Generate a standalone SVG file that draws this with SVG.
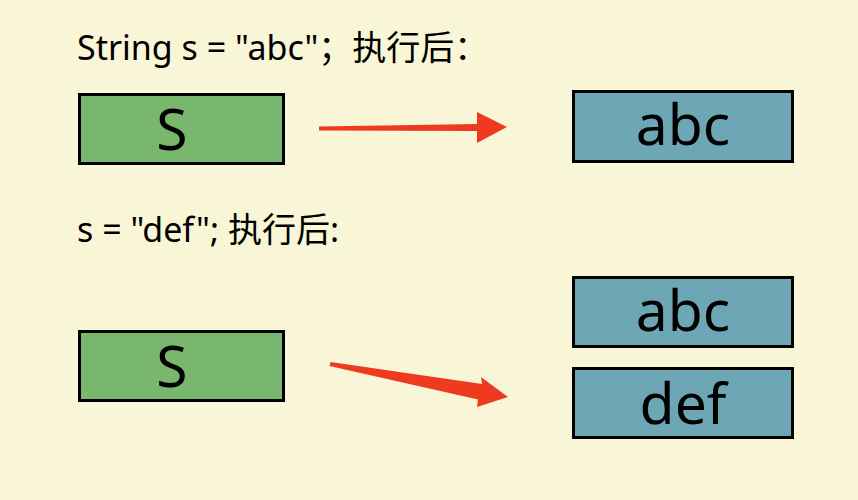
<svg xmlns="http://www.w3.org/2000/svg" width="858" height="500" viewBox="0 0 858 500">
<style>
.t{font-family:"Noto Sans","Noto Sans CJK SC",sans-serif;fill:#000}
.lbl{font-size:34px}
.big{font-size:57px;text-anchor:middle}
.g{fill:#78b76d;stroke:#000;stroke-width:3}
.b{fill:#6da7b6;stroke:#000;stroke-width:3}
.arr{fill:#ee3a1f}
</style>
<rect width="858" height="500" fill="#f8f6d6"/>
<text class="t lbl" x="77" y="60">String s = "abc"；执行后：</text>
<text class="t lbl" x="77" y="242">s = "def"; 执行后:</text>
<g id="s1"><rect class="g" x="79.5" y="94.5" width="204" height="69"/><text class="t big" x="172" y="150">S</text></g>
<g id="abc1"><rect class="b" x="573.5" y="91.5" width="219" height="70"/><text class="t big" x="683" y="145">abc</text></g>
<g id="s2"><rect class="g" x="79.5" y="331.5" width="204" height="69"/><text class="t big" x="172" y="387">S</text></g>
<g id="abc2"><rect class="b" x="573.5" y="277.5" width="219" height="69"/><text class="t big" x="683" y="331">abc</text></g>
<g id="def"><rect class="b" x="573.5" y="368.5" width="219" height="69"/><text class="t big" x="683" y="424">def</text></g>
<g id="connectors">
<polygon class="arr" points="319,126.5 477,124 477,112 507,127 477,143 477,131 319,130.5"/>
<polygon class="arr" points="330.5,362 482,384 481,377 508,397 477,407 478,399.5 329.5,366"/>
</g>
</svg>
